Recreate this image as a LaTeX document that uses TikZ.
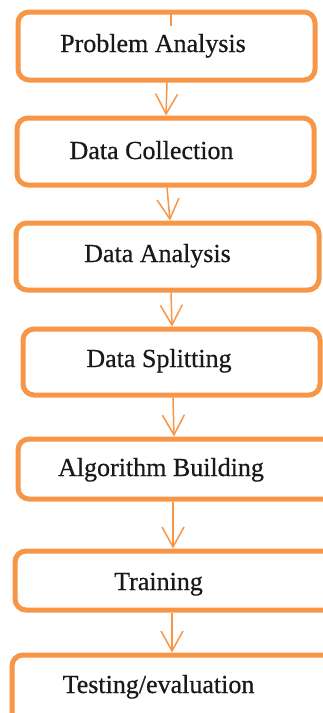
\documentclass[tikz,border=0pt]{standalone}
\usepackage{fontspec}
\setmainfont{Liberation Serif}
\newfontfamily\stagefont[FakeBold=0.6]{Liberation Serif}
\usetikzlibrary{arrows.meta}
\definecolor{flow}{HTML}{F79646}
\begin{document}
\begin{tikzpicture}[x=1pt,y=-1pt,
  stage/.style={draw=flow, line width=5pt, rounded corners=11pt, fill=white, inner sep=0pt},
  caption/.style={font=\stagefont\fontsize{26}{30}\selectfont, text=black!90, inner sep=0pt, anchor=base},
  flowarrow/.style={draw=flow, line width=1.5pt, -{Straight Barb[length=20pt,width=22pt]}}]
\useasboundingbox (0,0) rectangle (323,713);

% stage boxes (the lower ones run past the right edge)
\node[stage, minimum width=297pt, minimum height=68pt] (b1) at (166.5,46) {};
\node[stage, minimum width=297pt, minimum height=67pt] (b2) at (165.5,151.5) {};
\node[stage, minimum width=303pt, minimum height=67pt] (b3) at (167.5,256.5) {};
\node[stage, minimum width=297pt, minimum height=66pt] (b4) at (171.5,362) {};
\node[stage, minimum width=322pt, minimum height=60pt] (b5) at (179,469) {};
\node[stage, minimum width=325pt, minimum height=59pt] (b6) at (177.5,580.5) {};
\node[stage, minimum width=328pt, minimum height=85pt] (b7) at (176,697.5) {};

% captions
\node[caption] (t1) at (153,52) {Problem Analysis};
\node[caption] (t2) at (151.5,159) {Data Collection};
\node[caption] (t3) at (157.5,262) {Data Analysis};
\node[caption] (t4) at (159,367) {Data Splitting};
\node[caption] (t5) at (161,476) {Algorithm Building};
\node[caption] (t6) at (158.5,590) {Training};
\node[caption] (t7) at (158.5,693) {Testing/evaluation};

% short stub at the top of the first box
\coordinate (stub) at (171,26);
\draw[draw=flow, line width=1.5pt] (b1.north -| stub) -- (stub);

% connectors
\draw[flowarrow] ([xshift=0.5pt]b1.south) -- ([xshift=0.5pt]b2.north);
\draw[flowarrow] ([xshift=1.5pt]b2.south) -- ([xshift=2.5pt]b3.north);
\draw[flowarrow] ([xshift=3.5pt]b3.south) -- ([xshift=0.5pt]b4.north);
\draw[flowarrow] ([xshift=1.5pt]b4.south) -- ([xshift=-5pt]b5.north);
\draw[flowarrow] ([xshift=-6pt]b5.south) -- ([xshift=-4.5pt]b6.north);
\draw[flowarrow] ([xshift=-5.5pt]b6.south) -- ([xshift=-4pt]b7.north);
\end{tikzpicture}
\end{document}
